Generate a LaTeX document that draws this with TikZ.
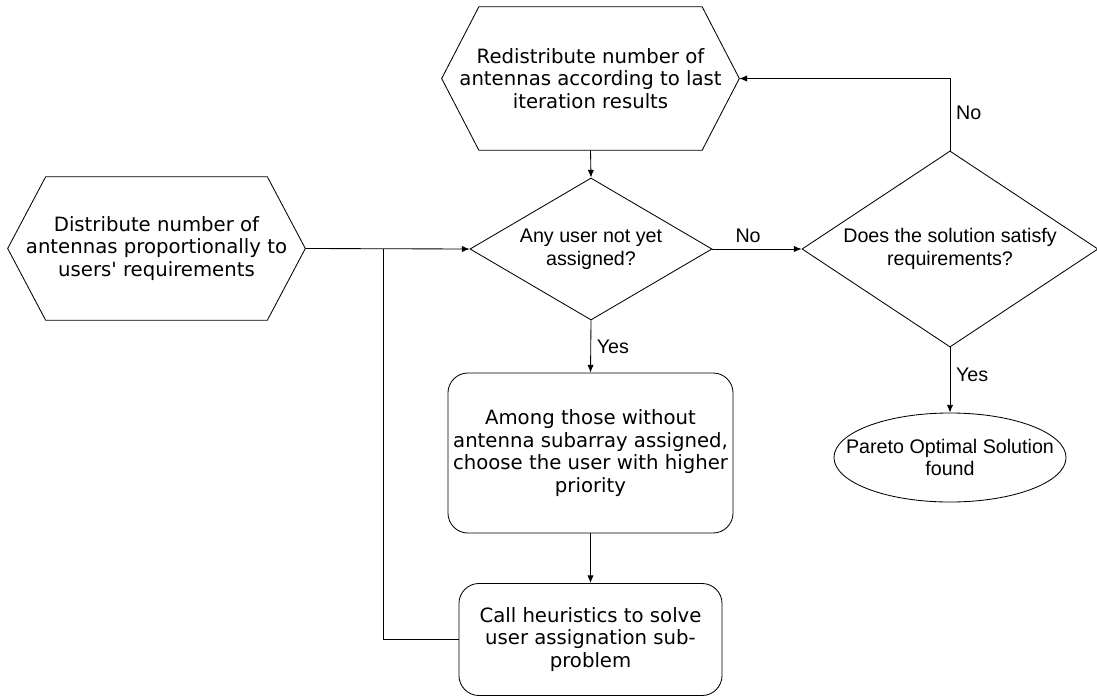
\documentclass[tikz,border=0pt]{standalone}
\usepackage{fontspec}
\setmainfont{DejaVu Sans}[Ligatures=TeXOff]
\newfontfamily\arialfont{Liberation Sans}
\usepackage{tikz}
\usetikzlibrary{shapes,arrows,arrows.meta,positioning}
\tikzstyle{hexnode} = [rectangle, minimum width=7.425cm, minimum height=3.575cm, align=center, inner sep=0pt, font=\fontsize{14}{16}\selectfont]
\tikzstyle{decision} = [diamond, draw, line width=0.6pt, align=center, inner sep=0pt, font=\arialfont\fontsize{14}{16.5}\selectfont]
\tikzstyle{block} = [rectangle, draw, line width=0.6pt, rounded corners=0.5cm, align=center, font=\fontsize{14}{16}\selectfont]
\tikzstyle{stop} = [ellipse, draw, line width=0.6pt, align=center, inner xsep=-0.55cm, inner ysep=0pt, minimum width=5.8cm, minimum height=2.225cm, font=\arialfont\fontsize{14}{16}\selectfont]
\tikzstyle{lbl} = [font=\arialfont\fontsize{14}{16}\selectfont, inner sep=4pt]
\tikzstyle{line} = [draw, line width=0.6pt]
\tikzstyle{arrow} = [draw, line width=0.6pt, -{Latex[length=5.5pt, width=4.5pt]}]
\newcommand{\hexoutline}[2]{\path [line] ([xshift=#2]#1.north west) -- ([xshift=-#2]#1.north east) -- (#1.east) -- ([xshift=-#2]#1.south east) -- ([xshift=#2]#1.south west) -- (#1.west) -- cycle;}

\begin{document}
\begin{tikzpicture}[x=0.025cm, y=-0.025cm]
			\useasboundingbox (0,0) rectangle (1097,697);
			\node [hexnode] (distribute) at (156.5, 248.5) {Distribute number of\\antennas proportionally to\\users' requirements};
			\node [hexnode] (redistribute) at (590.5, 78.5) {Redistribute number of\\antennas according to last\\iteration results};
			\node [decision, minimum width=6.05cm, minimum height=3.55cm, aspect=1.7] (anyuser) at (591, 249) {Any user not yet\\assigned?};
			\node [decision, minimum width=7.4cm, minimum height=4.9cm, aspect=1.5] (satisfy) at (950, 249) {Does the solution satisfy\\requirements?};
			\node [block, minimum width=7.125cm, minimum height=4cm] (choose) at (590.5, 453) {Among those without\\antenna subarray assigned,\\choose the user with higher\\priority};
			\node [block, minimum width=6.575cm, minimum height=2.8cm] (heuristics) at (590.5, 639.5) {Call heuristics to solve\\user assignation sub-\\problem};
			\node [stop] (pareto) at (950, 457.5) {Pareto Optimal Solution\\found};
			\coordinate (merge) at (383, 249);

			\hexoutline{distribute}{0.95cm}
			\hexoutline{redistribute}{0.93cm}

			\path [arrow] (distribute.east) -- (anyuser.west);
			\path [arrow] (redistribute.south) -- (anyuser.north);
			\path [arrow] (anyuser.east) -- node [lbl, pos=0.4, above] {No} (satisfy.west);
			\path [arrow] (satisfy.north) |- node [lbl, pos=0.26, right] {No} (redistribute.east);
			\path [arrow] (anyuser.south) -- node [lbl, midway, right] {Yes} (choose.north);
			\path [arrow] (satisfy.south) -- node [lbl, pos=0.42, right] {Yes} (pareto.north);
			\path [arrow] (choose.south) -- (heuristics.north);
			\path [line] (heuristics.west) -| (merge);
		\end{tikzpicture}
\end{document}
